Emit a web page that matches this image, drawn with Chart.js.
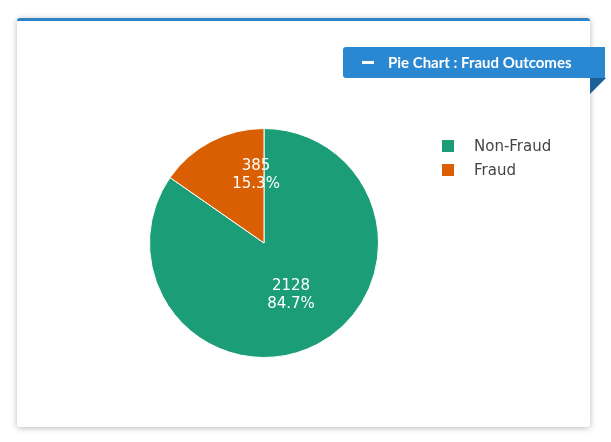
<!DOCTYPE html>
<html><head><meta charset="utf-8">
<script src="https://cdn.jsdelivr.net/npm/chart.js@4"></script>
<style>
html,body{margin:0;padding:0;background:#fff;width:611px;height:442px;overflow:hidden;}
#card{position:absolute;left:17px;top:18px;width:573px;height:406px;background:#fff;border-top:3px solid #2f84c6;border-radius:3px;box-shadow:0 1px 6px rgba(0,0,0,0.28);}
#wrap{position:absolute;left:0;top:0;width:611px;height:442px;}
#ribbon{position:absolute;left:343px;top:47px;width:262px;height:31px;background:#2a87d1;border-radius:3px 0 0 3px;color:#fff;font:bold 15px Lato,sans-serif;line-height:31px;}
#ribbon .minus{position:absolute;left:19px;top:14px;width:12px;height:3px;background:#fff;}
#ribbon .t{position:absolute;left:45px;top:0;}
#fold{position:absolute;left:590px;top:78px;width:0;height:0;border-top:16px solid #1d5f98;border-right:16px solid transparent;}
</style></head>
<body>
<div id="card"></div>
<div id="wrap"><canvas id="c" width="611" height="442"></canvas></div>
<div id="ribbon"><div class="minus"></div><span class="t">Pie Chart : Fraud Outcomes</span></div>
<div id="fold"></div>
<script>
const categories = ["Non-Fraud", "Fraud"];
const counts = [2128, 385];
const colors = ["#1b9e77", "#d95f02"];

const sliceLabels = {
  id: 'sliceLabels',
  afterDatasetsDraw(chart, args, opts) {
    const ctx = chart.ctx;
    const meta = chart.getDatasetMeta(0);
    const data = chart.data.datasets[0].data;
    const total = data.reduce((a, b) => a + b, 0);
    ctx.save();
    ctx.font = '15px "DejaVu Sans", Verdana, sans-serif';
    ctx.fillStyle = '#ffffff';
    ctx.textAlign = 'center';
    ctx.textBaseline = 'middle';
    meta.data.forEach((arc, i) => {
      const p = arc.getProps(['x', 'y', 'startAngle', 'endAngle', 'outerRadius'], true);
      const place = opts.place[i];
      const a = p.startAngle + (p.endAngle - p.startAngle) * place.f;
      const r = p.outerRadius * place.r;
      const x = p.x + Math.cos(a) * r;
      const y = p.y + Math.sin(a) * r;
      const pct = (data[i] / total * 100).toFixed(1) + '%';
      ctx.fillText(String(data[i]), x, y - 9);
      ctx.fillText(pct, x, y + 9);
    });
    ctx.restore();
  }
};

const sideLegend = {
  id: 'sideLegend',
  afterDraw(chart, args, opts) {
    const ctx = chart.ctx;
    ctx.save();
    ctx.font = '15px "DejaVu Sans", Verdana, sans-serif';
    ctx.textBaseline = 'middle';
    ctx.textAlign = 'left';
    chart.data.labels.forEach((lab, i) => {
      const y = opts.y + i * opts.gap;
      ctx.fillStyle = chart.data.datasets[0].backgroundColor[i];
      ctx.fillRect(opts.x, y - 6, 12, 12);
      ctx.fillStyle = '#444444';
      ctx.fillText(lab, opts.x + 32, y + 1);
    });
    ctx.restore();
  }
};

new Chart(document.getElementById('c'), {
  type: 'pie',
  data: {
    labels: categories,
    datasets: [{ data: counts, backgroundColor: colors, borderColor: '#ffffff', borderWidth: 1 }]
  },
  options: {
    responsive: false,
    animation: false,
    layout: { padding: { left: 149, right: 232, top: 128, bottom: 84 } },
    plugins: {
      legend: { display: false },
      tooltip: { enabled: false },
      sliceLabels: { place: [{ f: 0.5, r: 0.51 }, { f: 0.88, r: 0.60 }] },
      sideLegend: { x: 442, y: 146, gap: 24 }
    }
  },
  plugins: [sliceLabels, sideLegend]
});
</script>
</body></html>
